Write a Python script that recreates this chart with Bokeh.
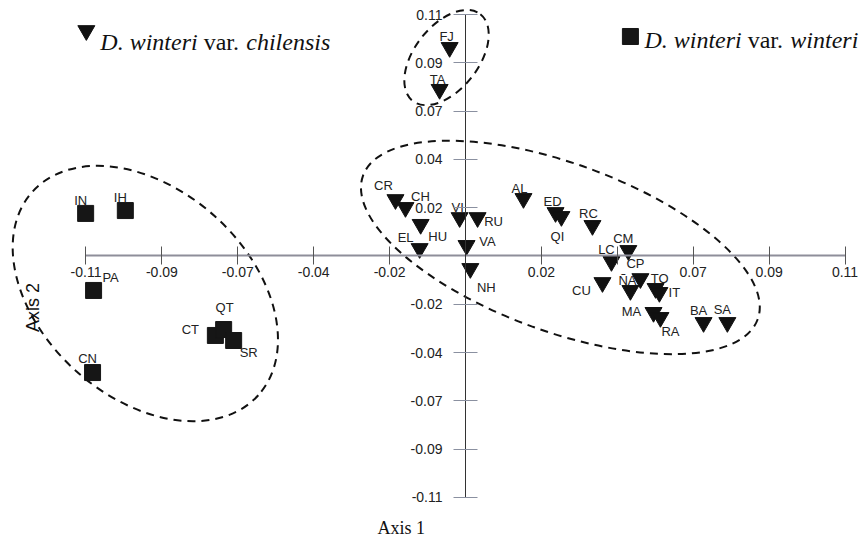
from bokeh.plotting import figure
from bokeh.models import ColumnDataSource, Label, FixedTicker, NumeralTickFormatter
from bokeh.core.properties import value
from bokeh.embed import file_html
from bokeh.resources import INLINE

# ---------------- data ----------------
# D. winteri var. chilensis (inverted triangles)
chil_names = ["FJ", "TA", "CR", "CH", "HU", "EL", "VI", "RU", "VA", "NH", "AL", "ED", "QI",
              "RC", "CM", "LC", "CU", "CP", "ÑA", "TO", "IT", "MA", "RA", "BA", "SA"]
chil_x = [-0.0046, -0.0075, -0.0203, -0.0174, -0.0130, -0.0133, -0.0017, 0.0035, 0.0003,
          0.0014, 0.0168, 0.0261, 0.0278, 0.0368, 0.0472, 0.0423, 0.0397, 0.0507, 0.0478,
          0.0551, 0.0562, 0.0545, 0.0565, 0.0690, 0.0759]
chil_y = [0.0950, 0.0759, 0.0257, 0.0221, 0.0144, 0.0034, 0.0175, 0.0175, 0.0048,
          -0.0057, 0.0262, 0.0198, 0.0180, 0.0139, 0.0025, -0.0025, -0.0121, -0.0103, -0.0157,
          -0.0148, -0.0166, -0.0257, -0.0280, -0.0303, -0.0303]

# D. winteri var. winteri (squares)
wint_names = ["IN", "IH", "PA", "CN", "CT", "QT", "SR"]
wint_x = [-0.1101, -0.0986, -0.1078, -0.1081, -0.0725, -0.0701, -0.0672]
wint_y = [0.0194, 0.0207, -0.0157, -0.0531, -0.0362, -0.0335, -0.0385]

# axis ticks
tick_vals = [-0.11, -0.088, -0.066, -0.044, -0.022, 0.022, 0.044, 0.066, 0.088, 0.11]
x_tick_labels = ["-0.11", "-0.09", "-0.07", "-0.04", "-0.02", "0.02", "", "0.07", "0.09", "0.11"]
y_tick_labels = ["-0.11", "-0.09", "-0.07", "-0.04", "-0.02", "0.02", "0.04", "0.07", "0.09", "0.11"]

# group ellipses (centre in data units)
ell_x = [-0.0055, 0.0275, -0.0928]
ell_y = [0.0904, 0.0039, -0.0171]

# ---------------- styles / label placement (screen px) ----------------
label_off = {
    "FJ": (-3, -11), "TA": (-2, -10), "CR": (-12, -14), "CH": (15, -11), "HU": (17, 12),
    "EL": (-14, -11), "VI": (-2, -10), "RU": (16, 4), "VA": (21, -4), "NH": (16, 19),
    "AL": (-4, -10), "ED": (-3, -11), "QI": (-4, 20), "RC": (-4, -12), "CM": (-5, -12),
    "LC": (-5, -12), "CU": (-21, 8), "CP": (-5, -15), "ÑA": (-3, -10), "TO": (4, -10),
    "IT": (15, 0), "MA": (-22, -1), "RA": (10, 14), "BA": (-5, -12), "SA": (-5, -13),
    "IN": (-5, -13), "IH": (-5, -13), "PA": (17, -13), "CN": (-5, -14), "CT": (-25, -6),
    "QT": (1, -22), "SR": (15, 12),
}
ell_w = [110, 420, 304]
ell_h = [64, 168, 208]
ell_a = [52, -20, -42]

SANS = "Liberation Sans"
SERIF = "Liberation Serif"

p = figure(width=864, height=541, x_range=(-0.13478, 0.11565), y_range=(-0.13007, 0.11640),
           min_border=0, output_backend="svg", toolbar_location=None,
           background_fill_color="white", border_fill_color="white")
p.grid.visible = False
p.outline_line_color = None

for ax, labels, tin, tout, stand, lc, tc in (
        (p.xaxis, x_tick_labels, 9, 9, 2, "#8e8e9a", "#555555"),
        (p.yaxis, y_tick_labels, 12, 12, 11, "#333333", "#8a90a0")):
    ax.fixed_location = 0
    ax.bounds = (-0.11, 0.11)
    ax.ticker = FixedTicker(ticks=tick_vals)
    ax.formatter = NumeralTickFormatter(format="0.00")
    ax.major_label_overrides = dict(zip(tick_vals, labels))
    ax.minor_tick_line_color = None
    ax.major_tick_in = tin
    ax.major_tick_out = tout
    ax.major_label_standoff = stand
    ax.axis_line_color = lc
    ax.major_tick_line_color = tc
    ax.major_label_text_font = SANS
    ax.major_label_text_font_size = "14px"
    ax.major_label_text_color = "#222222"
p.xaxis.axis_line_width = 2

# ellipses
p.ellipse(x=ell_x, y=ell_y, width=ell_w, height=ell_h, angle=ell_a, angle_units="deg",
          width_units="screen", height_units="screen", fill_color=None,
          line_color="#111111", line_width=2, line_dash="8 6")

chil_src = ColumnDataSource(dict(x=chil_x, y=chil_y, name=chil_names,
                                 dx=[label_off[n][0] for n in chil_names],
                                 dy=[label_off[n][1] for n in chil_names]))
wint_src = ColumnDataSource(dict(x=wint_x, y=wint_y, name=wint_names,
                                 dx=[label_off[n][0] for n in wint_names],
                                 dy=[label_off[n][1] for n in wint_names]))

p.scatter("x", "y", source=chil_src, marker="inverted_triangle", size=17,
          fill_color="#111111", line_color="#111111")
p.scatter("x", "y", source=wint_src, marker="square", size=16,
          fill_color="#161616", line_color="#161616")

for src in (chil_src, wint_src):
    p.text("x", "y", text="name", source=src, x_offset="dx", y_offset="dy",
           text_align="center", text_baseline="middle", text_font=value(SANS),
           text_font_size="13px", text_color="#222222")

# axis titles
p.add_layout(Label(x=-0.0186, y=-0.1241, text="Axis 1", text_align="center",
                   text_baseline="middle", text_font=SERIF, text_font_size="18px",
                   text_color="#111111"))
p.add_layout(Label(x=-0.1255, y=-0.0235, text="Axis 2", angle=90, angle_units="deg",
                   text_align="center", text_baseline="middle", text_font=SANS,
                   text_font_size="18px", text_color="#111111"))

# legend (markers + mixed-style text)
leg_x = [-0.1099, 0.0478]
leg_y = [0.1027, 0.1000]
leg_base = [0.0977, 0.0984]
p.scatter(x=[leg_x[0]], y=[leg_y[0]], marker="inverted_triangle", size=17,
          fill_color="#111111", line_color="#111111")
p.scatter(x=[leg_x[1]], y=[leg_y[1]], marker="square", size=16,
          fill_color="#161616", line_color="#161616")

legend_texts = [("D. winteri", "var.", "chilensis"), ("D. winteri", "var.", "winteri")]
piece_dx = [14, 14 + 97.3 + 6, 14 + 97.3 + 6 + 36.6 + 6]
piece_style = ["italic", "normal", "italic"]
for i, pieces in enumerate(legend_texts):
    for txt, dx, st in zip(pieces, piece_dx, piece_style):
        p.add_layout(Label(x=leg_x[i], y=leg_base[i], x_offset=dx, text=txt,
                           text_align="left", text_baseline="alphabetic",
                           text_font=SERIF, text_font_size="24px",
                           text_font_style=st, text_color="#111111"))

open("out.html", "w").write(file_html(p, INLINE))
